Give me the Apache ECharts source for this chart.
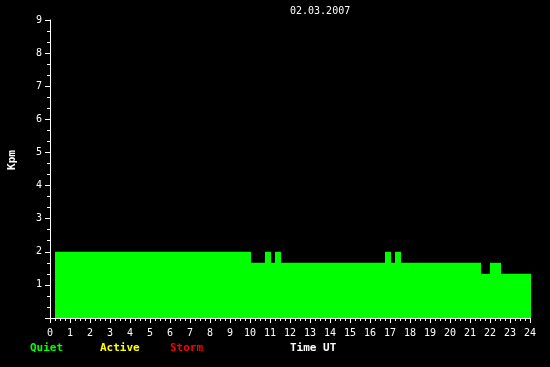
<!DOCTYPE html>
<html>
<head>
<meta charset="utf-8">
<script src="https://cdn.jsdelivr.net/npm/echarts@6/dist/echarts.min.js"></script>
<style>
html,body{margin:0;padding:0;background:#000;}
#chart{width:550px;height:367px;}
</style>
</head>
<body>
<div id="chart"></div>
<script>
// Segments of Kpm index (hours UT)
var segStart = [0.25, 10.05, 10.75, 11.25, 16.75, 17.25, 21.55, 22.0, 22.55];
var segEnd   = [10.05, 21.55, 11.05, 11.55, 17.05, 17.55, 22.0, 22.55, 24.05];
var segValue = [2.0, 1.667, 2.0, 2.0, 2.0, 2.0, 1.333, 1.667, 1.333];
var xTicks = [0, 24];
var yRange = [0, 9];
var dateLabel = '02.03.2007';
var legendNames = ['Quiet', 'Active', 'Storm'];
var legendColors = ['#00ff00', '#ffff00', '#ff0000'];

var data = segStart.map(function (s, i) { return [s, segEnd[i], segValue[i]]; });

var chart = echarts.init(document.getElementById('chart'), null, {renderer: 'canvas'});
var mono = 'DejaVu Sans Mono';

var graphics = [
  {type: 'text', left: 290, top: 6, style: {text: dateLabel, fill: '#fff', font: '10px ' + mono}},
  {type: 'text', x: 12, y: 160, rotation: Math.PI / 2, style: {text: 'Kpm', fill: '#fff', font: 'bold 11px ' + mono, textAlign: 'center', textVerticalAlign: 'middle'}},
  {type: 'text', left: 290, top: 343, style: {text: 'Time UT', fill: '#fff', font: 'bold 11px ' + mono}}
];
var legX = [30, 100, 170];
legendNames.forEach(function (n, i) {
  graphics.push({type: 'text', left: legX[i], top: 343, style: {text: n, fill: legendColors[i], font: 'bold 11px ' + mono}});
});

chart.setOption({
  backgroundColor: '#000',
  animation: false,
  grid: {left: 50, right: 20, top: 20, bottom: 49, containLabel: false},
  xAxis: {
    type: 'value', min: xTicks[0], max: xTicks[1], interval: 1,
    axisLine: {show: true, lineStyle: {color: '#fff', width: 1}},
    axisTick: {show: true, length: 5, lineStyle: {color: '#fff'}},
    minorTick: {show: true, splitNumber: 4, length: 3, lineStyle: {color: '#fff'}},
    splitLine: {show: false},
    axisLabel: {color: '#fff', fontFamily: mono, fontSize: 10, margin: 10}
  },
  yAxis: {
    type: 'value', min: yRange[0], max: yRange[1], interval: 1,
    axisLine: {show: true, lineStyle: {color: '#fff', width: 1}},
    axisTick: {show: true, length: 5, lineStyle: {color: '#fff'}},
    minorTick: {show: true, splitNumber: 3, length: 3, lineStyle: {color: '#fff'}},
    splitLine: {show: false},
    axisLabel: {color: '#fff', fontFamily: mono, fontSize: 10, margin: 8,
      formatter: function (v) { return v === 0 ? '' : String(v); }}
  },
  series: [{
    type: 'custom',
    data: data,
    renderItem: function (params, api) {
      var p0 = api.coord([api.value(0), api.value(2)]);
      var p1 = api.coord([api.value(1), 0]);
      return {
        type: 'rect',
        shape: {x: p0[0], y: p0[1], width: p1[0] - p0[0], height: p1[1] - p0[1]},
        style: {fill: '#00ff00'}
      };
    },
    clip: false
  }],
  graphic: graphics
});
</script>
</body>
</html>
